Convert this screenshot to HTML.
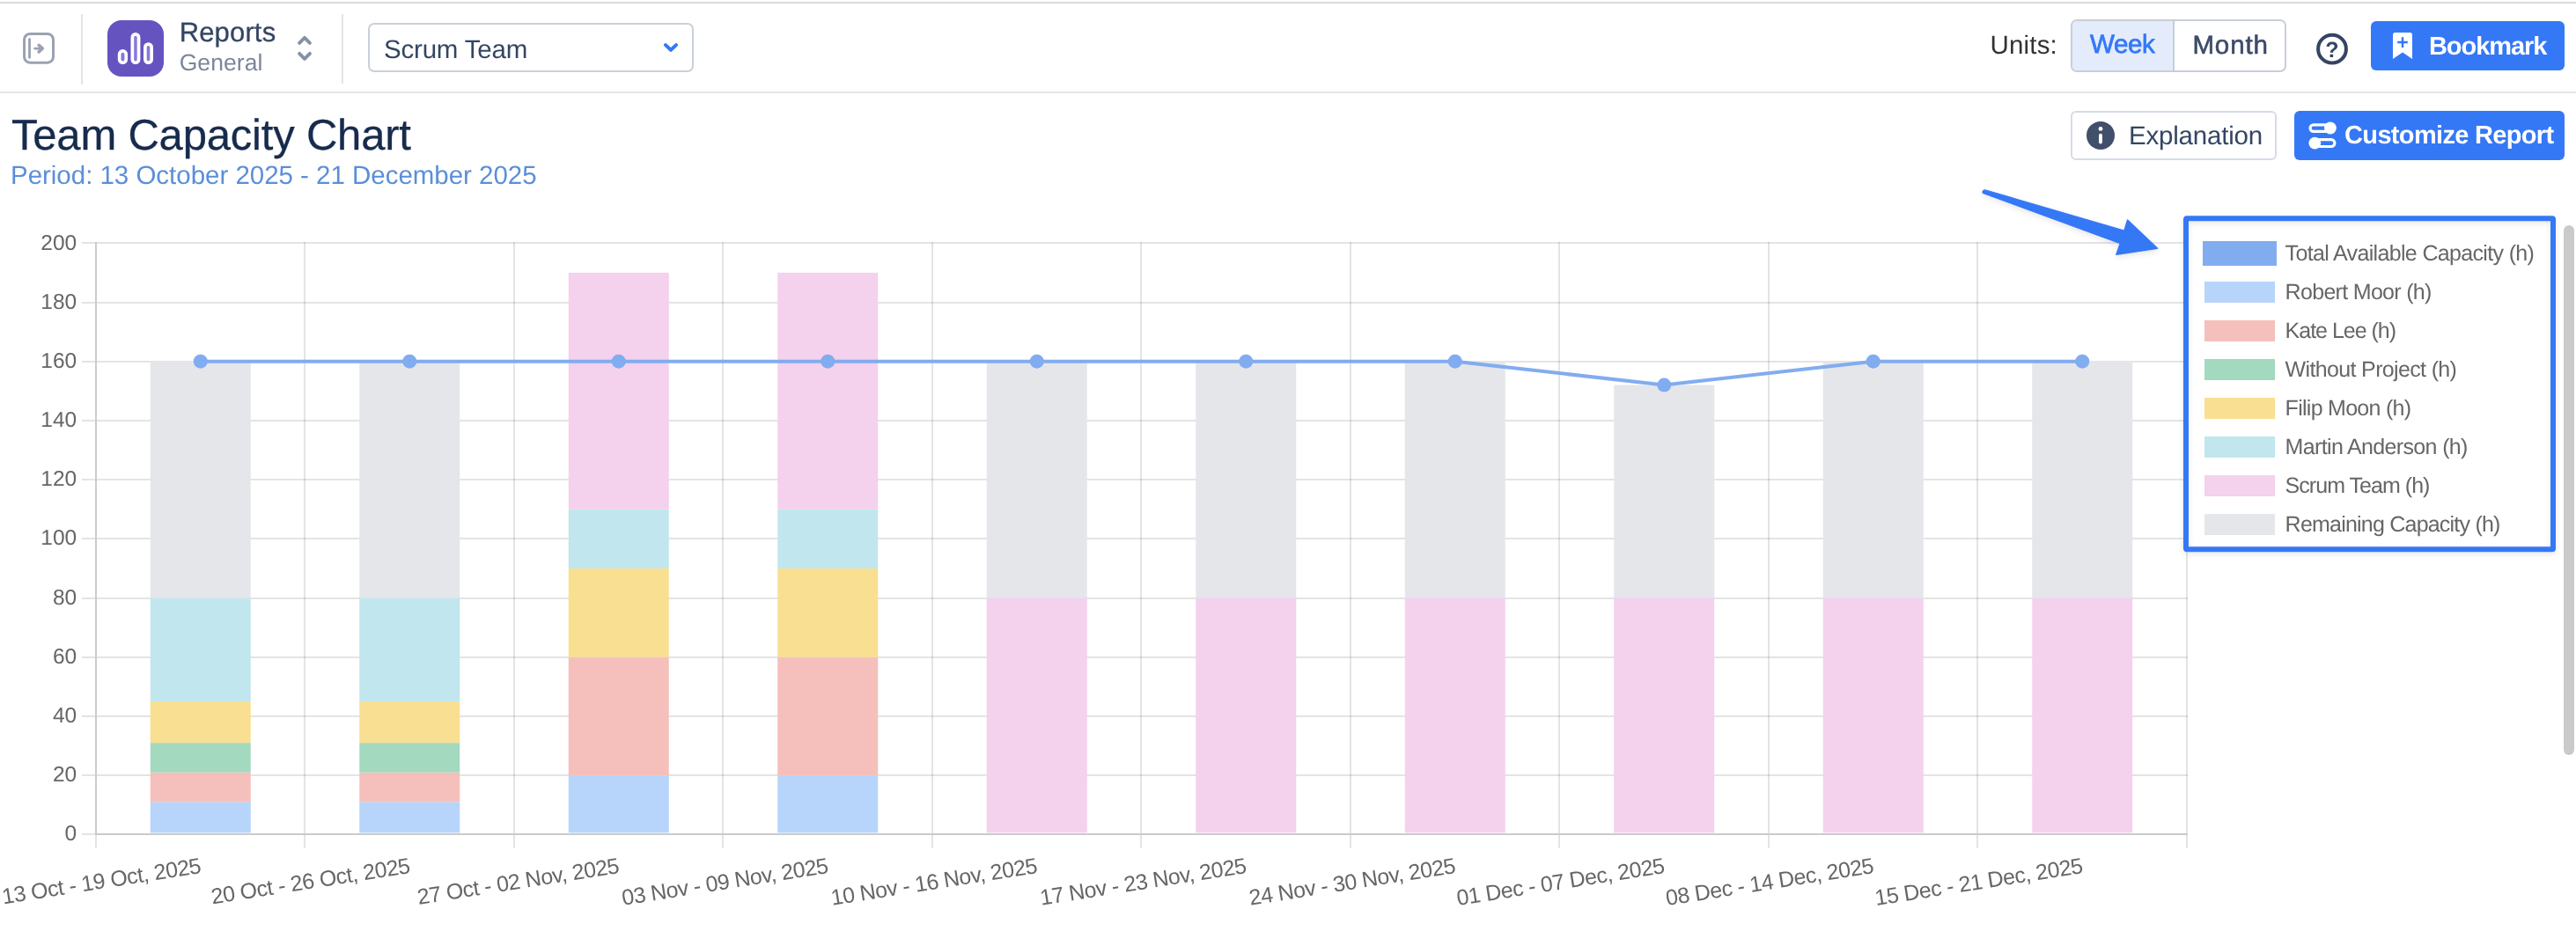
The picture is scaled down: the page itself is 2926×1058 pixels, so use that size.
<!DOCTYPE html><html lang="en"><head><meta charset="utf-8"><title>Team Capacity Chart</title><style>
html,body{margin:0;padding:0;background:#fff}
body{width:2926px;height:1058px;position:relative;overflow:hidden;font-family:"Liberation Sans", Arial, Helvetica, sans-serif;-webkit-font-smoothing:antialiased;text-rendering:geometricPrecision}
.layer{position:absolute;left:0;top:0;width:2926px;height:1058px;will-change:transform;transform:translateZ(0)}
.t{position:absolute;white-space:nowrap;line-height:1;display:block}
.abs{position:absolute;box-sizing:border-box}
.chart{position:absolute;left:0;top:0}
.icons{position:absolute;left:0;top:0;pointer-events:none}

</style></head><body><div class="layer">
<div class="abs" style="left:0;top:2px;width:2926px;height:2px;background:#dadada"></div>
<header class="abs" style="left:0;top:0;width:2926px;height:106px;border-bottom:2px solid #e5e5e5"></header>
<div class="abs" style="left:92px;top:16px;width:2px;height:80px;background:#e3e4ea"></div>
<div class="abs" style="left:388.4px;top:16px;width:2px;height:79px;background:#e3e4ea"></div>
<div class="abs" style="left:122px;top:23px;width:64px;height:64px;border-radius:16px;background:#6554c0"></div>
<span class="t" style="left:203.70px;top:20.76px;font-size:31px;color:#344563;font-weight:normal;letter-spacing:0.15px;-webkit-text-stroke:0.3px #344563;" id="t-reports">Reports</span>
<span class="t" style="left:203.70px;top:57.57px;font-size:26.5px;color:#7a869a;font-weight:normal;letter-spacing:0.06px;;" id="t-general">General</span>
<div class="abs" style="left:418.3px;top:26.3px;width:369.6px;height:55.3px;border:2px solid #cad0d9;border-radius:7px;background:#fff"></div>
<span class="t" style="left:436.00px;top:42.03px;font-size:29.5px;color:#344563;font-weight:normal;letter-spacing:-0.2px;;" id="t-scrum">Scrum Team</span>
<span class="t" style="left:2260.50px;top:37.03px;font-size:29.5px;color:#333333;font-weight:normal;letter-spacing:0.18px;;" id="t-units">Units:</span>
<div class="abs" style="left:2352px;top:22px;width:245px;height:60px;border:2px solid #c8ced8;border-radius:7px;background:#fff;overflow:hidden"><div class="abs" style="left:0;top:0;width:116px;height:56px;background:#e4ecfc;border-right:2px solid #c8ced8"></div></div>
<span class="t" style="left:2374.10px;top:36.03px;font-size:29.5px;color:#3578f6;font-weight:normal;letter-spacing:-0.4px;-webkit-text-stroke:0.75px #3578f6;" id="t-week">Week</span>
<span class="t" style="left:2490.40px;top:37.03px;font-size:29.5px;color:#3d4b68;font-weight:normal;letter-spacing:0.9px;-webkit-text-stroke:0.6px #3d4b68;" id="t-month">Month</span>
<div class="abs" style="left:2693px;top:23.9px;width:220px;height:56px;border-radius:6px;background:#3578f6"></div>
<span class="t" style="left:2759.00px;top:39.45px;font-size:29px;color:#fff;font-weight:bold;letter-spacing:-1.081px;;" id="t-bookmark">Bookmark</span>
<span class="t" style="left:13.00px;top:129.52px;font-size:49px;color:#172b4d;font-weight:normal;letter-spacing:-0.2px;-webkit-text-stroke:0.3px #172b4d;" id="t-title">Team Capacity Chart</span>
<span class="t" style="left:12.00px;top:185.03px;font-size:29.5px;color:#5b8fd8;font-weight:normal;letter-spacing:-0.022px;;" id="t-period">Period: 13 October 2025 - 21 December 2025</span>
<div class="abs" style="left:2352.2px;top:126.2px;width:233.4px;height:55.5px;border:2px solid #d5dbe8;border-radius:6px;background:#fff"></div>
<span class="t" style="left:2418.00px;top:140.03px;font-size:29.5px;color:#344563;font-weight:normal;letter-spacing:-0.198px;;" id="t-expl">Explanation</span>
<div class="abs" style="left:2606px;top:125.9px;width:307px;height:56.1px;border-radius:6px;background:#3578f6"></div>
<span class="t" style="left:2663.10px;top:140.45px;font-size:29px;color:#fff;font-weight:bold;letter-spacing:-0.672px;;" id="t-custom">Customize Report</span>
<svg class="chart" width="2926" height="1058" viewBox="0 0 2926 1058" font-family='"Liberation Sans", Arial, Helvetica, sans-serif'>
<rect x="93" y="880.00" width="2392.00" height="2" fill="rgba(0,0,0,0.105)"/>
<rect x="93" y="813.00" width="2392.00" height="2" fill="rgba(0,0,0,0.105)"/>
<rect x="93" y="746.00" width="2392.00" height="2" fill="rgba(0,0,0,0.105)"/>
<rect x="93" y="679.00" width="2392.00" height="2" fill="rgba(0,0,0,0.105)"/>
<rect x="93" y="611.00" width="2392.00" height="2" fill="rgba(0,0,0,0.105)"/>
<rect x="93" y="544.00" width="2392.00" height="2" fill="rgba(0,0,0,0.105)"/>
<rect x="93" y="477.00" width="2392.00" height="2" fill="rgba(0,0,0,0.105)"/>
<rect x="93" y="410.00" width="2392.00" height="2" fill="rgba(0,0,0,0.105)"/>
<rect x="93" y="343.00" width="2392.00" height="2" fill="rgba(0,0,0,0.105)"/>
<rect x="93" y="275.00" width="2392.00" height="2" fill="rgba(0,0,0,0.105)"/>
<rect x="93" y="947.00" width="16" height="2" fill="rgba(0,0,0,0.105)"/>
<rect x="345.00" y="275.00" width="2" height="688.60" fill="rgba(0,0,0,0.105)"/>
<rect x="583.00" y="275.00" width="2" height="688.60" fill="rgba(0,0,0,0.105)"/>
<rect x="820.00" y="275.00" width="2" height="688.60" fill="rgba(0,0,0,0.105)"/>
<rect x="1058.00" y="275.00" width="2" height="688.60" fill="rgba(0,0,0,0.105)"/>
<rect x="1295.00" y="275.00" width="2" height="688.60" fill="rgba(0,0,0,0.105)"/>
<rect x="1533.00" y="275.00" width="2" height="688.60" fill="rgba(0,0,0,0.105)"/>
<rect x="1770.00" y="275.00" width="2" height="688.60" fill="rgba(0,0,0,0.105)"/>
<rect x="2008.00" y="275.00" width="2" height="688.60" fill="rgba(0,0,0,0.105)"/>
<rect x="2245.00" y="275.00" width="2" height="688.60" fill="rgba(0,0,0,0.105)"/>
<rect x="2483.00" y="275.00" width="2" height="688.60" fill="rgba(0,0,0,0.105)"/>
<rect x="108.00" y="949.00" width="2" height="14.6" fill="rgba(0,0,0,0.105)"/>
<rect x="108.00" y="275.00" width="2" height="674.00" fill="#cbcbcb"/>
<rect x="108.00" y="947.00" width="2377.00" height="2" fill="#cbcbcb"/>
<text x="87.2" y="955.20" font-size="24.5" fill="#666" text-anchor="end">0</text>
<text x="87.2" y="888.20" font-size="24.5" fill="#666" text-anchor="end">20</text>
<text x="87.2" y="821.20" font-size="24.5" fill="#666" text-anchor="end">40</text>
<text x="87.2" y="754.20" font-size="24.5" fill="#666" text-anchor="end">60</text>
<text x="87.2" y="687.20" font-size="24.5" fill="#666" text-anchor="end">80</text>
<text x="87.2" y="619.20" font-size="24.5" fill="#666" text-anchor="end">100</text>
<text x="87.2" y="552.20" font-size="24.5" fill="#666" text-anchor="end">120</text>
<text x="87.2" y="485.20" font-size="24.5" fill="#666" text-anchor="end">140</text>
<text x="87.2" y="418.20" font-size="24.5" fill="#666" text-anchor="end">160</text>
<text x="87.2" y="351.20" font-size="24.5" fill="#666" text-anchor="end">180</text>
<text x="87.2" y="284.40" font-size="24.5" fill="#666" text-anchor="end">200</text>
<rect x="170.75" y="911.34" width="114" height="35.06" fill="#b7d4fb"/>
<rect x="170.75" y="877.74" width="114" height="33.60" fill="#f5c0bb"/>
<rect x="170.75" y="844.14" width="114" height="33.60" fill="#a3d9bf"/>
<rect x="170.75" y="797.10" width="114" height="47.04" fill="#f9df91"/>
<rect x="170.75" y="679.50" width="114" height="117.60" fill="#c1e6ee"/>
<rect x="170.75" y="410.70" width="114" height="268.80" fill="#e5e6ea"/>
<rect x="408.25" y="911.34" width="114" height="35.06" fill="#b7d4fb"/>
<rect x="408.25" y="877.74" width="114" height="33.60" fill="#f5c0bb"/>
<rect x="408.25" y="844.14" width="114" height="33.60" fill="#a3d9bf"/>
<rect x="408.25" y="797.10" width="114" height="47.04" fill="#f9df91"/>
<rect x="408.25" y="679.50" width="114" height="117.60" fill="#c1e6ee"/>
<rect x="408.25" y="410.70" width="114" height="268.80" fill="#e5e6ea"/>
<rect x="645.75" y="881.10" width="114" height="65.30" fill="#b7d4fb"/>
<rect x="645.75" y="746.70" width="114" height="134.40" fill="#f5c0bb"/>
<rect x="645.75" y="645.90" width="114" height="100.80" fill="#f9df91"/>
<rect x="645.75" y="578.70" width="114" height="67.20" fill="#c1e6ee"/>
<rect x="645.75" y="309.90" width="114" height="268.80" fill="#f4d1ed"/>
<rect x="883.25" y="881.10" width="114" height="65.30" fill="#b7d4fb"/>
<rect x="883.25" y="746.70" width="114" height="134.40" fill="#f5c0bb"/>
<rect x="883.25" y="645.90" width="114" height="100.80" fill="#f9df91"/>
<rect x="883.25" y="578.70" width="114" height="67.20" fill="#c1e6ee"/>
<rect x="883.25" y="309.90" width="114" height="268.80" fill="#f4d1ed"/>
<rect x="1120.75" y="679.50" width="114" height="266.90" fill="#f4d1ed"/>
<rect x="1120.75" y="410.70" width="114" height="268.80" fill="#e5e6ea"/>
<rect x="1358.25" y="679.50" width="114" height="266.90" fill="#f4d1ed"/>
<rect x="1358.25" y="410.70" width="114" height="268.80" fill="#e5e6ea"/>
<rect x="1595.75" y="679.50" width="114" height="266.90" fill="#f4d1ed"/>
<rect x="1595.75" y="410.70" width="114" height="268.80" fill="#e5e6ea"/>
<rect x="1833.25" y="679.50" width="114" height="266.90" fill="#f4d1ed"/>
<rect x="1833.25" y="437.58" width="114" height="241.92" fill="#e5e6ea"/>
<rect x="2070.75" y="679.50" width="114" height="266.90" fill="#f4d1ed"/>
<rect x="2070.75" y="410.70" width="114" height="268.80" fill="#e5e6ea"/>
<rect x="2308.25" y="679.50" width="114" height="266.90" fill="#f4d1ed"/>
<rect x="2308.25" y="410.70" width="114" height="268.80" fill="#e5e6ea"/>
<polyline points="227.75,410.70 465.25,410.70 702.75,410.70 940.25,410.70 1177.75,410.70 1415.25,410.70 1652.75,410.70 1890.25,437.58 2127.75,410.70 2365.25,410.70" fill="none" stroke="#81acf0" stroke-width="4" stroke-linejoin="round"/>
<circle cx="227.75" cy="410.70" r="8" fill="#81acf0"/>
<circle cx="465.25" cy="410.70" r="8" fill="#81acf0"/>
<circle cx="702.75" cy="410.70" r="8" fill="#81acf0"/>
<circle cx="940.25" cy="410.70" r="8" fill="#81acf0"/>
<circle cx="1177.75" cy="410.70" r="8" fill="#81acf0"/>
<circle cx="1415.25" cy="410.70" r="8" fill="#81acf0"/>
<circle cx="1652.75" cy="410.70" r="8" fill="#81acf0"/>
<circle cx="1890.25" cy="437.58" r="8" fill="#81acf0"/>
<circle cx="2127.75" cy="410.70" r="8" fill="#81acf0"/>
<circle cx="2365.25" cy="410.70" r="8" fill="#81acf0"/>
<text transform="translate(228.25,983.2) rotate(-9)" x="0" y="8.6" font-size="25" fill="#666" text-anchor="end" textLength="228.6" lengthAdjust="spacing">13 Oct - 19 Oct, 2025</text>
<text transform="translate(465.75,983.2) rotate(-9)" x="0" y="8.6" font-size="25" fill="#666" text-anchor="end" textLength="228.6" lengthAdjust="spacing">20 Oct - 26 Oct, 2025</text>
<text transform="translate(703.25,983.2) rotate(-9)" x="0" y="8.6" font-size="25" fill="#666" text-anchor="end" textLength="232.0" lengthAdjust="spacing">27 Oct - 02 Nov, 2025</text>
<text transform="translate(940.75,983.2) rotate(-9)" x="0" y="8.6" font-size="25" fill="#666" text-anchor="end" textLength="237.3" lengthAdjust="spacing">03 Nov - 09 Nov, 2025</text>
<text transform="translate(1178.25,983.2) rotate(-9)" x="0" y="8.6" font-size="25" fill="#666" text-anchor="end" textLength="237.3" lengthAdjust="spacing">10 Nov - 16 Nov, 2025</text>
<text transform="translate(1415.75,983.2) rotate(-9)" x="0" y="8.6" font-size="25" fill="#666" text-anchor="end" textLength="237.3" lengthAdjust="spacing">17 Nov - 23 Nov, 2025</text>
<text transform="translate(1653.25,983.2) rotate(-9)" x="0" y="8.6" font-size="25" fill="#666" text-anchor="end" textLength="237.3" lengthAdjust="spacing">24 Nov - 30 Nov, 2025</text>
<text transform="translate(1890.75,983.2) rotate(-9)" x="0" y="8.6" font-size="25" fill="#666" text-anchor="end" textLength="239.0" lengthAdjust="spacing">01 Dec - 07 Dec, 2025</text>
<text transform="translate(2128.25,983.2) rotate(-9)" x="0" y="8.6" font-size="25" fill="#666" text-anchor="end" textLength="239.0" lengthAdjust="spacing">08 Dec - 14 Dec, 2025</text>
<text transform="translate(2365.75,983.2) rotate(-9)" x="0" y="8.6" font-size="25" fill="#666" text-anchor="end" textLength="239.0" lengthAdjust="spacing">15 Dec - 21 Dec, 2025</text>
<defs><filter id="sh" x="-10%" y="-10%" width="120%" height="130%"><feDropShadow dx="0" dy="2.5" stdDeviation="3" flood-color="#000" flood-opacity="0.1"/></filter></defs>
<path filter="url(#sh)" d="M2252.4,219.4 Q2251.4,216.4 2254.6,215.9 L2412.9,262.2 L2416.6,249.9 L2450.6,282.3 L2403.9,289.3 L2408.3,276.5 Z" fill="#3578f6" stroke="#3578f6" stroke-width="1.4" stroke-linejoin="round"/>
<rect filter="url(#sh)" x="2483" y="248.3" width="417" height="376" rx="1" fill="none" stroke="#3578f6" stroke-width="6"/>
<rect x="2502" y="274" width="84" height="28" fill="#81acf0"/>
<text x="2595.6" y="296.0" font-size="25" fill="#666" textLength="283.3" lengthAdjust="spacing">Total Available Capacity (h)</text>
<rect x="2504" y="320" width="80" height="24" fill="#b7d4fb"/>
<text x="2595.6" y="340.0" font-size="25" fill="#666" textLength="166.8" lengthAdjust="spacing">Robert Moor (h)</text>
<rect x="2504" y="364" width="80" height="24" fill="#f5c0bb"/>
<text x="2595.6" y="384.0" font-size="25" fill="#666" textLength="126.39999999999999" lengthAdjust="spacing">Kate Lee (h)</text>
<rect x="2504" y="408" width="80" height="24" fill="#a3d9bf"/>
<text x="2595.6" y="428.0" font-size="25" fill="#666" textLength="195.3" lengthAdjust="spacing">Without Project (h)</text>
<rect x="2504" y="452" width="80" height="24" fill="#f9df91"/>
<text x="2595.6" y="472.0" font-size="25" fill="#666" textLength="143.4" lengthAdjust="spacing">Filip Moon (h)</text>
<rect x="2504" y="496" width="80" height="24" fill="#c1e6ee"/>
<text x="2595.6" y="516.0" font-size="25" fill="#666" textLength="207.8" lengthAdjust="spacing">Martin Anderson (h)</text>
<rect x="2504" y="540" width="80" height="24" fill="#f4d1ed"/>
<text x="2595.6" y="560.0" font-size="25" fill="#666" textLength="164.8" lengthAdjust="spacing">Scrum Team (h)</text>
<rect x="2504" y="584" width="80" height="24" fill="#e5e6ea"/>
<text x="2595.6" y="604.0" font-size="25" fill="#666" textLength="244.8" lengthAdjust="spacing">Remaining Capacity (h)</text>
<rect x="2912" y="256" width="12" height="602" rx="6" fill="#cacaca"/>
</svg>
<svg class="icons" width="2926" height="200" viewBox="0 0 2926 200">
<g fill="none" stroke="#9ba2b1" stroke-linecap="round" stroke-linejoin="round"><rect x="27.55" y="38.5" width="32.95" height="32.7" rx="6.6" stroke-width="3"/><path d="M33.5,44.6 V65.3" stroke-width="2.8"/><path d="M39.6,55.1 H47.6" stroke-width="2.9"/><path d="M44.2,51.3 L48.3,55.0 L44.2,58.9" stroke-width="3.6"/></g>
<g fill="#8878d9" stroke="#fff" stroke-width="3.7"><rect x="135.65" y="57.85" width="7.6" height="13.4" rx="3.8"/><rect x="150.35" y="38.85" width="7.2" height="32.4" rx="3.6"/><rect x="164.85" y="50.05" width="7.3" height="21.2" rx="3.65"/></g>
<g fill="none" stroke="#8791a6" stroke-width="3.9" stroke-linecap="round" stroke-linejoin="round"><path d="M340.1,48.9 L346,42.9 L351.9,48.9"/><path d="M340.1,60.9 L346,66.9 L351.9,60.9"/></g>
<path d="M756,51.1 L762,56.8 L768,51.1" fill="none" stroke="#3478f6" stroke-width="4" stroke-linecap="round" stroke-linejoin="round"/>
<circle cx="2649" cy="55.7" r="15.9" fill="none" stroke="#344563" stroke-width="4"/>
<text x="2649" y="64.5" font-family='"Liberation Sans", Arial, Helvetica, sans-serif' font-weight="bold" font-size="25" fill="#344563" text-anchor="middle">?</text>
<path d="M2720.6,36.9 H2737.4 Q2740,36.9 2740,39.5 V67.1 L2729,59.6 L2718,67.1 V39.5 Q2718,36.9 2720.6,36.9 Z" fill="#fff"/>
<path d="M2723.2,48.1 H2734.8 M2729,42.2 V54" stroke="#3578f6" stroke-width="2.5" fill="none"/>
<circle cx="2386" cy="153.9" r="16" fill="#424f6b"/>
<circle cx="2386" cy="146.4" r="2.4" fill="#fff"/><path d="M2386,153.6 V161.6" stroke="#fff" stroke-width="3.9" stroke-linecap="round"/>
<g fill="none" stroke="#fff" stroke-width="3.2"><rect x="2624.1" y="141.8" width="27" height="7.6" rx="3.8"/><rect x="2625" y="158.7" width="26.9" height="7.8" rx="3.9"/></g><circle cx="2646.9" cy="145.5" r="6.9" fill="#fff"/><circle cx="2629.3" cy="162.6" r="6.9" fill="#fff"/>
</svg>
</div></body></html>
